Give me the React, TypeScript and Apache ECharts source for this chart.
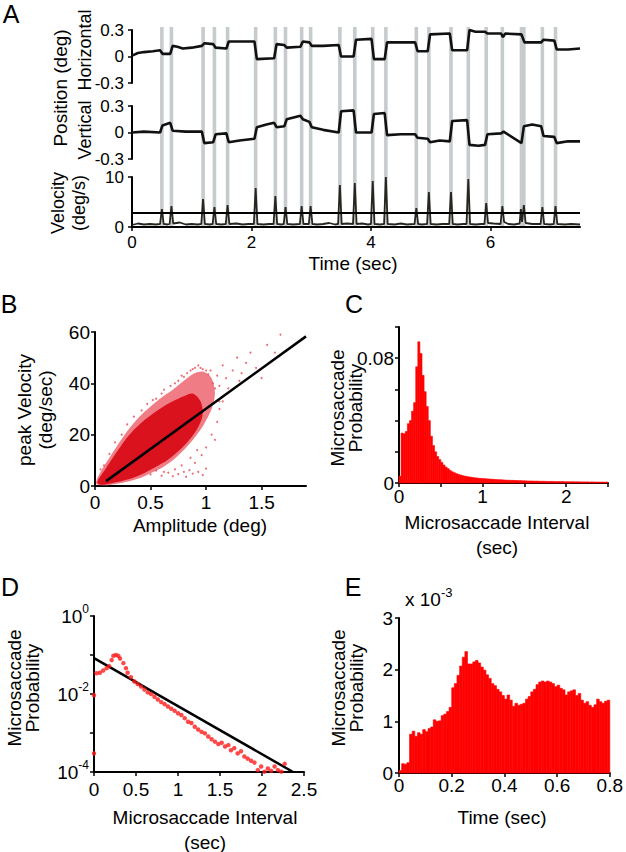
import React, { useEffect, useRef } from 'react';
import * as echarts from 'echarts';

const FONT = '"Liberation Sans", Arial, Helvetica, sans-serif';
const RED = '#ff0000';
const GRAY = '#c6cbce';

// ---------- Panel A ----------
const SACCADE_WINDOWS = [
  [0.47, 0.53], [0.63, 0.69], [1.16, 1.22], [1.35, 1.41], [1.57, 1.63], [2.04, 2.1], [2.37, 2.43],
  [2.54, 2.6], [2.81, 2.87], [2.96, 3.02], [3.45, 3.51], [3.7, 3.76], [4.0, 4.06], [4.22, 4.28],
  [4.73, 4.79], [4.94, 5.0], [5.31, 5.37], [5.6, 5.66], [5.9, 5.96], [6.17, 6.23], [6.49, 6.59],
  [6.84, 6.9], [7.06, 7.12],
];
const H_POSITION = [
  [0, 0.01], [0.1, 0.04], [0.2, 0.05], [0.35, 0.06], [0.47, 0.07], [0.51, 0.03], [0.64, 0.03],
  [0.68, 0.12], [0.76, 0.11], [0.85, 0.09], [1.0, 0.1], [1.17, 0.12], [1.21, 0.15], [1.36, 0.14],
  [1.4, 0.1], [1.58, 0.09], [1.62, 0.17], [1.85, 0.17], [2.05, 0.17], [2.09, -0.03], [2.38, -0.02],
  [2.42, 0.14], [2.55, 0.13], [2.59, 0.1], [2.82, 0.11], [2.86, 0.17], [2.97, 0.16], [3.01, 0.12],
  [3.2, 0.12], [3.46, 0.13], [3.5, 0.0], [3.71, 0.0], [3.75, 0.19], [4.01, 0.2], [4.05, -0.03],
  [4.23, -0.03], [4.27, 0.16], [4.74, 0.16], [4.78, 0.06], [4.95, 0.06], [4.99, 0.25], [5.32, 0.26],
  [5.36, 0.07], [5.61, 0.07], [5.65, 0.3], [5.75, 0.28], [5.91, 0.28], [5.95, 0.26], [6.18, 0.26],
  [6.21, 0.22], [6.25, 0.26], [6.52, 0.25], [6.57, 0.16], [6.85, 0.16], [6.89, 0.19], [7.07, 0.18],
  [7.11, 0.08], [7.3, 0.08], [7.5, 0.09],
];
const V_POSITION = [
  [0, 0.0], [0.2, 0.01], [0.47, 0.0], [0.51, 0.08], [0.64, 0.11], [0.68, 0.02], [0.9, 0.01],
  [1.17, 0.01], [1.21, -0.12], [1.36, -0.11], [1.4, -0.02], [1.58, -0.01], [1.62, -0.11], [1.8, -0.09],
  [2.05, -0.07], [2.09, 0.06], [2.25, 0.09], [2.38, 0.11], [2.42, 0.06], [2.55, 0.07], [2.59, 0.15],
  [2.82, 0.19], [2.86, 0.15], [2.97, 0.12], [3.01, 0.06], [3.2, 0.03], [3.46, 0.0], [3.5, 0.24],
  [3.71, 0.25], [3.75, 0.0], [4.01, 0.0], [4.05, 0.21], [4.23, 0.22], [4.27, -0.03], [4.5, -0.02],
  [4.74, -0.02], [4.78, -0.06], [4.95, -0.07], [4.99, -0.11], [5.15, -0.09], [5.32, -0.1], [5.36, 0.13],
  [5.61, 0.14], [5.65, -0.14], [5.8, -0.15], [5.91, -0.14], [5.95, -0.02], [6.18, -0.01], [6.22, 0.01],
  [6.52, -0.12], [6.56, 0.07], [6.7, 0.09], [6.85, 0.07], [6.89, -0.04], [7.07, -0.05], [7.11, -0.12],
  [7.3, -0.1], [7.5, -0.1],
];
const VELOCITY = [
  [0, 0.4], [0.1, 0.7], [0.2, 0.5], [0.3, 0.6], [0.4, 0.5], [0.47, 0.6], [0.5, 3.6], [0.53, 0.6],
  [0.6, 0.5], [0.63, 0.6], [0.66, 4.2], [0.69, 0.7], [0.8, 0.9], [0.9, 0.5], [1.0, 0.6], [1.1, 0.5],
  [1.16, 0.6], [1.19, 5.6], [1.22, 0.6], [1.3, 0.5], [1.35, 0.6], [1.38, 4.0], [1.41, 0.6], [1.5, 0.5],
  [1.57, 0.6], [1.6, 4.4], [1.63, 0.6], [1.75, 0.7], [1.85, 0.5], [1.95, 0.6], [2.04, 0.6], [2.07, 7.8],
  [2.1, 0.6], [2.2, 0.5], [2.3, 0.6], [2.37, 0.6], [2.4, 6.2], [2.43, 0.6], [2.5, 0.5], [2.54, 0.6],
  [2.57, 4.0], [2.6, 0.6], [2.7, 0.5], [2.81, 0.6], [2.84, 4.2], [2.87, 0.6], [2.96, 0.6], [2.99, 4.2],
  [3.02, 0.6], [3.1, 0.5], [3.2, 0.6], [3.3, 0.8], [3.4, 0.5], [3.45, 0.6], [3.48, 8.4], [3.51, 0.6],
  [3.6, 0.7], [3.7, 0.6], [3.73, 8.8], [3.76, 0.6], [3.85, 0.7], [3.95, 0.5], [4.0, 0.6], [4.03, 9.2],
  [4.06, 0.6], [4.15, 0.5], [4.22, 0.6], [4.25, 10.0], [4.28, 0.6], [4.4, 0.5], [4.5, 0.7], [4.6, 0.5],
  [4.73, 0.6], [4.76, 3.8], [4.79, 0.6], [4.85, 0.5], [4.94, 0.6], [4.97, 7.0], [5.0, 0.6], [5.1, 0.5],
  [5.2, 0.6], [5.31, 0.6], [5.34, 7.0], [5.37, 0.6], [5.45, 0.5], [5.55, 0.6], [5.6, 0.6], [5.63, 9.6],
  [5.66, 0.6], [5.75, 0.5], [5.85, 0.6], [5.9, 0.6], [5.93, 4.8], [5.96, 0.8], [6.05, 0.7], [6.17, 0.6],
  [6.2, 4.2], [6.23, 1.0], [6.3, 0.6], [6.4, 0.5], [6.49, 0.7], [6.51, 3.6], [6.53, 1.0], [6.56, 4.4],
  [6.59, 0.8], [6.7, 0.6], [6.84, 0.6], [6.87, 4.0], [6.9, 0.6], [7.0, 0.5], [7.06, 0.6], [7.09, 4.2],
  [7.12, 0.6], [7.25, 0.5], [7.35, 0.6], [7.5, 0.5],
];
const VEL_THRESHOLD = 2.8;
const A_TIME_MAX = 7.5;

// ---------- Panel B ----------
const B_CLOUD_OUTER = [
  [0.01, 1.0], [0.05, 5.5], [0.13, 11], [0.22, 17], [0.31, 22.5], [0.4, 27], [0.5, 31], [0.6, 34.5],
  [0.7, 37.5], [0.8, 41], [0.9, 44], [0.98, 44.5], [1.05, 42], [1.08, 36], [1.05, 30], [0.98, 24],
  [0.9, 19], [0.8, 14], [0.7, 10], [0.6, 7], [0.5, 5], [0.4, 3], [0.3, 1.8], [0.2, 0.9], [0.08, 0.3],
];
const B_CLOUD_CORE = [
  [0.02, 1.5], [0.1, 7], [0.2, 13.5], [0.3, 19.5], [0.4, 24], [0.5, 27.5], [0.6, 30.5], [0.7, 33],
  [0.8, 35], [0.88, 36], [0.95, 33], [0.97, 28], [0.93, 23], [0.85, 18], [0.75, 13.5], [0.65, 10],
  [0.55, 7.5], [0.45, 5.2], [0.35, 3.3], [0.25, 2], [0.15, 1.1], [0.05, 0.5],
];
const B_POINTS = [
  [0.55, 34], [0.6, 36], [0.62, 37.5], [0.68, 39], [0.72, 40], [0.75, 41], [0.78, 43], [0.8, 42.5],
  [0.83, 44], [0.86, 45], [0.88, 45.5], [0.9, 46], [0.93, 47], [0.95, 46], [0.97, 45.5], [1.0, 45],
  [1.02, 43.5], [1.04, 45], [1.06, 40], [1.08, 38], [1.1, 43], [1.12, 39], [1.15, 47], [1.18, 42],
  [1.2, 38], [1.24, 45], [1.28, 50], [1.32, 44], [1.36, 48], [1.4, 52], [1.45, 46], [1.55, 55],
  [1.62, 52], [1.67, 59], [1.5, 42], [1.3, 41], [1.12, 33],
  [0.5, 4.5], [0.55, 6], [0.6, 4], [0.62, 5.5], [0.66, 5.2], [0.7, 3.8], [0.72, 6.5], [0.75, 4.6],
  [0.78, 8], [0.8, 5.5], [0.82, 3.6], [0.85, 6.2], [0.88, 4.8], [0.9, 9], [0.93, 5.5], [0.97, 4.2],
  [1.0, 6.8], [0.96, 12], [1.0, 15], [1.05, 20], [1.1, 25], [1.08, 18], [0.92, 14], [0.86, 11],
  [1.12, 30], [1.15, 33], [0.08, 8], [0.13, 12.5], [0.18, 17], [0.24, 20], [0.29, 24], [0.35, 27],
  [0.42, 29.5], [0.47, 32], [0.52, 33.5], [0.05, 6.5],
];
const B_FIT = [[0.1, 1.9], [1.9, 58.3]];

// ---------- Panel C ----------
const C_BIN = 0.025;
const C_VALUES = [
  0.0043, 0.032, 0.0315, 0.033, 0.038, 0.04, 0.046, 0.0515, 0.0745, 0.0905,
  0.083, 0.069, 0.0585, 0.049, 0.04, 0.03, 0.024, 0.02, 0.017, 0.015,
  0.0132, 0.0115, 0.0102, 0.0092, 0.0081, 0.0072, 0.0066, 0.006, 0.0055, 0.0051,
  0.0047, 0.0044, 0.0041, 0.0039, 0.0037, 0.0035, 0.0033, 0.0032, 0.003, 0.0029,
  0.0028, 0.0027, 0.0026, 0.0025, 0.0024, 0.0023, 0.0022, 0.0021, 0.0021, 0.002,
  0.0019, 0.0018, 0.0018, 0.0017, 0.0017, 0.0016, 0.0016, 0.0015, 0.0015, 0.0014,
  0.0014, 0.0013, 0.0013, 0.0013, 0.0012, 0.0012, 0.0012, 0.0011, 0.0011, 0.0011,
  0.001, 0.001, 0.001, 0.001, 0.0009, 0.0009, 0.0009, 0.0009, 0.0009, 0.0008,
  0.0008, 0.0008, 0.0008, 0.0008, 0.0007, 0.0008, 0.0007, 0.0007, 0.0007, 0.0007,
  0.0007, 0.0006, 0.0007, 0.0006, 0.0006, 0.0006, 0.0006, 0.0006, 0.0005, 0.0006,
];

// ---------- Panel D ----------
const D_POINTS = [
  [0, 9.3e-3], [0, 3.0e-4], [0.03, 3.4e-2], [0.07, 3.5e-2], [0.11, 4.0e-2], [0.15, 4.6e-2],
  [0.18, 5.2e-2], [0.21, 7.4e-2], [0.23, 9.5e-2], [0.26, 1.0e-1], [0.29, 9.5e-2], [0.31, 8.1e-2],
  [0.35, 6.2e-2], [0.38, 4.6e-2], [0.4, 3.5e-2], [0.44, 2.7e-2], [0.48, 2.1e-2], [0.52, 1.8e-2],
  [0.56, 1.55e-2], [0.6, 1.3e-2], [0.64, 1.1e-2], [0.68, 1.0e-2], [0.72, 8.5e-3], [0.76, 7.2e-3],
  [0.8, 6.2e-3], [0.84, 5.5e-3], [0.88, 4.8e-3], [0.92, 4.2e-3], [0.96, 3.7e-3], [1.0, 3.2e-3],
  [1.04, 2.9e-3], [1.08, 2.4e-3], [1.12, 1.95e-3], [1.16, 1.8e-3], [1.2, 1.45e-3], [1.24, 1.23e-3],
  [1.28, 1.07e-3], [1.32, 9.8e-4], [1.36, 8.1e-4], [1.4, 6.9e-4], [1.44, 6.0e-4], [1.48, 5.2e-4],
  [1.52, 5.6e-4], [1.56, 4.5e-4], [1.6, 4.9e-4], [1.63, 3.6e-4], [1.67, 4.1e-4], [1.71, 3.0e-4],
  [1.75, 3.4e-4], [1.79, 2.5e-4], [1.83, 2.2e-4], [1.87, 1.95e-4], [1.91, 1.74e-4], [1.95, 1.12e-4],
  [1.99, 1.38e-4], [2.03, 1.02e-4], [2.07, 1.23e-4], [2.11, 1.07e-4], [2.15, 1.38e-4], [2.19, 1.12e-4],
  [2.23, 1.02e-4], [2.27, 1.62e-4],
];
const D_FIT = [[0, 0.083], [2.37, 1e-4]];

// ---------- Panel E ----------
const E_BIN = 0.01;
const E_VALUES = [
  0.05, 0.18, 0.17, 0.2, 0.75, 0.81, 0.71, 0.78, 0.75, 0.84,
  0.8, 0.86, 0.89, 1.03, 1.0, 1.01, 1.11, 1.14, 1.19, 1.27,
  1.65, 1.73, 1.89, 2.07, 2.24, 2.35, 2.11, 2.11, 2.15, 2.18,
  2.13, 2.05, 1.99, 1.9, 1.83, 1.73, 1.69, 1.62, 1.57, 1.5,
  1.43, 1.51, 1.41, 1.29, 1.35, 1.31, 1.33, 1.35, 1.43, 1.48,
  1.57, 1.62, 1.71, 1.76, 1.78, 1.76, 1.78, 1.76, 1.73, 1.67,
  1.7, 1.64, 1.61, 1.51, 1.57, 1.59, 1.61, 1.5, 1.54, 1.41,
  1.35, 1.38, 1.31, 1.27, 1.32, 1.43, 1.38, 1.35, 1.39, 1.41,
];

// ---------- helpers ----------
const axisLine = { show: true, onZero: false, lineStyle: { color: '#000', width: 2 } };
const axisTick = { show: true, inside: false, length: 4, lineStyle: { color: '#000', width: 1.5 } };
const noSplit = { show: false };
const lbl = (size: number, margin: number, extra: any = {}) => ({
  color: '#000', fontFamily: FONT, fontSize: size, margin, ...extra,
});
const hiddenAxis = (min: number, max: number) => ({ type: 'value', min, max, show: false });

const histItem = (params: any, api: any) => {
  const p0 = api.coord([api.value(0), api.value(2)]);
  const p1 = api.coord([api.value(1), 0]);
  return {
    type: 'rect',
    shape: { x: p0[0], y: p0[1], width: p1[0] - p0[0], height: p1[1] - p0[1] },
    style: { fill: RED, stroke: RED, lineWidth: 0.6 },
  };
};

const polyItem = (pts: number[][], fill: string) => (params: any, api: any) => ({
  type: 'polygon',
  shape: { points: pts.map((p) => api.coord(p)), smooth: 0.3 },
  style: { fill },
});

const txt = (text: string, x: number, y: number, size: number, extra: any = {}) => ({
  type: 'text', x, y, z: 10,
  style: { text, fontSize: size, fontFamily: FONT, fill: '#000', align: 'center', verticalAlign: 'middle', ...extra },
});
const vtxt = (text: string, x: number, y: number, size: number, lineHeight: number) => ({
  type: 'text', x, y, z: 10, rotation: Math.PI / 2,
  style: { text, fontSize: size, fontFamily: FONT, fill: '#000', align: 'center', verticalAlign: 'middle', lineHeight },
});

function buildOption(): any {
  const cData = C_VALUES.map((v, i) => [i * C_BIN, (i + 1) * C_BIN, v]);
  const eData = E_VALUES.map((v, i) => [i * E_BIN, (i + 1) * E_BIN, v]);

  return {
    animation: false,
    backgroundColor: '#fff',
    grid: [
      { left: 132, top: 30, width: 448, height: 53 },
      { left: 132, top: 106, width: 448, height: 53 },
      { left: 132, top: 177, width: 448, height: 50 },
      { left: 132, top: 27, width: 448, height: 199 },
      { left: 95, top: 332, width: 211, height: 154 },
      { left: 399, top: 327, width: 209, height: 156 },
      { left: 94, top: 616, width: 210, height: 156 },
      { left: 399, top: 618, width: 213, height: 155 },
    ],
    xAxis: [
      { gridIndex: 0, ...hiddenAxis(0, A_TIME_MAX) },
      { gridIndex: 1, ...hiddenAxis(0, A_TIME_MAX) },
      {
        gridIndex: 2, type: 'value', min: 0, max: A_TIME_MAX, interval: 2,
        axisLine, axisTick, splitLine: noSplit,
        axisLabel: lbl(17, 7, { showMaxLabel: false }),
      },
      { gridIndex: 3, ...hiddenAxis(0, A_TIME_MAX) },
      {
        gridIndex: 4, type: 'value', min: 0, max: 1.9, interval: 0.5,
        axisLine, axisTick, splitLine: noSplit,
        axisLabel: lbl(19, 7, { showMaxLabel: false }),
      },
      {
        gridIndex: 5, type: 'value', min: 0, max: 2.5, interval: 0.5,
        axisLine, axisTick, splitLine: noSplit,
        axisLabel: lbl(19, 4, { formatter: (v: number) => (Math.abs(v - Math.round(v)) < 1e-9 ? String(Math.round(v)) : '') }),
      },
      {
        gridIndex: 6, type: 'value', min: 0, max: 2.5, interval: 0.5,
        axisLine, axisTick, splitLine: noSplit,
        axisLabel: lbl(19, 8),
      },
      {
        gridIndex: 7, type: 'value', min: 0, max: 0.8, interval: 0.2,
        axisLine, axisTick, splitLine: noSplit,
        axisLabel: lbl(19, 3),
      },
    ],
    yAxis: [
      {
        gridIndex: 0, type: 'value', min: -0.3, max: 0.3, interval: 0.3,
        axisLine, axisTick, splitLine: noSplit, axisLabel: lbl(17, 8),
      },
      {
        gridIndex: 1, type: 'value', min: -0.3, max: 0.3, interval: 0.3,
        axisLine, axisTick, splitLine: noSplit, axisLabel: lbl(17, 8),
      },
      {
        gridIndex: 2, type: 'value', min: 0, max: 10, interval: 10,
        axisLine, axisTick, splitLine: noSplit, axisLabel: lbl(17, 8),
      },
      { gridIndex: 3, ...hiddenAxis(0, 1) },
      {
        gridIndex: 4, type: 'value', min: 0, max: 60, interval: 20,
        axisLine, axisTick, splitLine: noSplit, axisLabel: lbl(19, 5),
      },
      {
        gridIndex: 5, type: 'value', min: 0, max: 0.1, interval: 0.02,
        axisLine, axisTick, splitLine: noSplit,
        axisLabel: lbl(19, 5, {
          formatter: (v: number) => (Math.abs(v) < 1e-9 ? '0' : Math.abs(v - 0.08) < 1e-9 ? '0.08' : ''),
        }),
      },
      {
        gridIndex: 6, type: 'log', logBase: 10, min: 1e-4, max: 1,
        axisLine, axisTick, splitLine: noSplit, minorTick: { show: false },
        axisLabel: lbl(19, 5, {
          formatter: (v: number) => {
            const e = Math.round(Math.log10(v));
            if (e % 2 !== 0) return '';
            return '{b|10}{s|' + e + '}';
          },
          rich: {
            b: { fontSize: 19, fontFamily: FONT, color: '#000', lineHeight: 26 },
            s: { fontSize: 12, fontFamily: FONT, color: '#000', verticalAlign: 'top' },
          },
        }),
      },
      {
        gridIndex: 7, type: 'value', min: 0, max: 3, interval: 1,
        axisLine, axisTick, splitLine: noSplit, axisLabel: lbl(19, 6),
      },
    ],
    series: [
      // Panel A
      {
        type: 'custom', xAxisIndex: 3, yAxisIndex: 3, data: SACCADE_WINDOWS, z: 1, silent: true,
        encode: { x: [0, 1] },
        renderItem: (params: any, api: any) => {
          const a = api.coord([api.value(0), 1]);
          const b = api.coord([api.value(1), 0]);
          return { type: 'rect', shape: { x: a[0], y: a[1], width: b[0] - a[0], height: b[1] - a[1] }, style: { fill: GRAY } };
        },
      },
      {
        type: 'line', xAxisIndex: 0, yAxisIndex: 0, data: H_POSITION, showSymbol: false, z: 3,
        lineStyle: { color: '#111', width: 2.6 },
      },
      {
        type: 'line', xAxisIndex: 1, yAxisIndex: 1, data: V_POSITION, showSymbol: false, z: 3,
        lineStyle: { color: '#111', width: 2.6 },
      },
      {
        type: 'line', xAxisIndex: 2, yAxisIndex: 2, data: VELOCITY, showSymbol: false, z: 3,
        lineStyle: { color: '#26261e', width: 1.8 },
      },
      {
        type: 'line', xAxisIndex: 2, yAxisIndex: 2, data: [[0, VEL_THRESHOLD], [A_TIME_MAX, VEL_THRESHOLD]],
        showSymbol: false, z: 4, lineStyle: { color: '#000', width: 2 },
      },
      // Panel B
      {
        type: 'custom', xAxisIndex: 4, yAxisIndex: 4, data: [[0, 0]], encode: { x: 0, y: 1 }, z: 2,
        renderItem: polyItem(B_CLOUD_OUTER, '#f07d85'),
      },
      {
        type: 'custom', xAxisIndex: 4, yAxisIndex: 4, data: [[0, 0]], encode: { x: 0, y: 1 }, z: 3,
        renderItem: polyItem(B_CLOUD_CORE, '#d9121e'),
      },
      {
        type: 'scatter', xAxisIndex: 4, yAxisIndex: 4, data: B_POINTS, symbolSize: 2, z: 3,
        itemStyle: { color: '#e8434d' },
      },
      {
        type: 'line', xAxisIndex: 4, yAxisIndex: 4, data: B_FIT, showSymbol: false, z: 5,
        lineStyle: { color: '#000', width: 2.5 },
      },
      // Panel C
      {
        type: 'custom', xAxisIndex: 5, yAxisIndex: 5, data: cData, encode: { x: [0, 1], y: 2 }, z: 2,
        renderItem: histItem,
      },
      // Panel D
      {
        type: 'line', xAxisIndex: 6, yAxisIndex: 6, data: D_FIT, showSymbol: false, z: 3,
        lineStyle: { color: '#000', width: 2.5 },
      },
      {
        type: 'scatter', xAxisIndex: 6, yAxisIndex: 6, data: D_POINTS, symbolSize: 4.5, z: 4,
        itemStyle: { color: '#ff1a1a' },
      },
      // Panel E
      {
        type: 'custom', xAxisIndex: 7, yAxisIndex: 7, data: eData, encode: { x: [0, 1], y: 2 }, z: 2,
        renderItem: histItem,
      },
    ],
    graphic: [
      txt('A', 11, 14, 25),
      txt('B', 9, 304, 25),
      txt('C', 354, 304, 25),
      txt('D', 10, 587, 25),
      txt('E', 353, 587, 25),
      vtxt('Position (deg)', 60, 88, 19, 22),
      vtxt('Horizontal', 85, 50, 18, 22),
      vtxt('Vertical', 85, 130, 18, 22),
      vtxt('Velocity\n(deg/s)', 68, 203, 18, 21),
      txt('Time (sec)', 353, 263, 19),
      vtxt('peak Velocity\n(deg/sec)', 35, 410, 19, 21),
      txt('Amplitude (deg)', 200, 525, 19),
      vtxt('Microsaccade\nProbability', 346, 408, 19, 18),
      txt('Microsaccade Interval\n(sec)', 497, 535, 19, { lineHeight: 25 }),
      vtxt('Microsaccade\nProbability', 23, 688, 19, 18),
      txt('Microsaccade Interval\n(sec)', 205, 830, 19, { lineHeight: 25 }),
      vtxt('Microsaccade\nProbability', 347, 688, 19, 18),
      txt('Time (sec)', 502, 817, 19),
      {
        type: 'text', x: 405, y: 599, z: 10,
        style: {
          text: '{a|x 10}{s|-3}', align: 'left', verticalAlign: 'middle',
          rich: {
            a: { fontSize: 19, fontFamily: FONT, fill: '#000', lineHeight: 26 },
            s: { fontSize: 13, fontFamily: FONT, fill: '#000', verticalAlign: 'top' },
          },
        },
      },
    ],
  };
}

export default function App() {
  const ref = useRef<HTMLDivElement>(null);
  useEffect(() => {
    document.body.style.margin = '0';
    const chart = echarts.init(ref.current as HTMLDivElement, null, { renderer: 'svg' });
    chart.setOption(buildOption());
    return () => chart.dispose();
  }, []);
  return <div ref={ref} style={{ width: 626, height: 852 }} />;
}
